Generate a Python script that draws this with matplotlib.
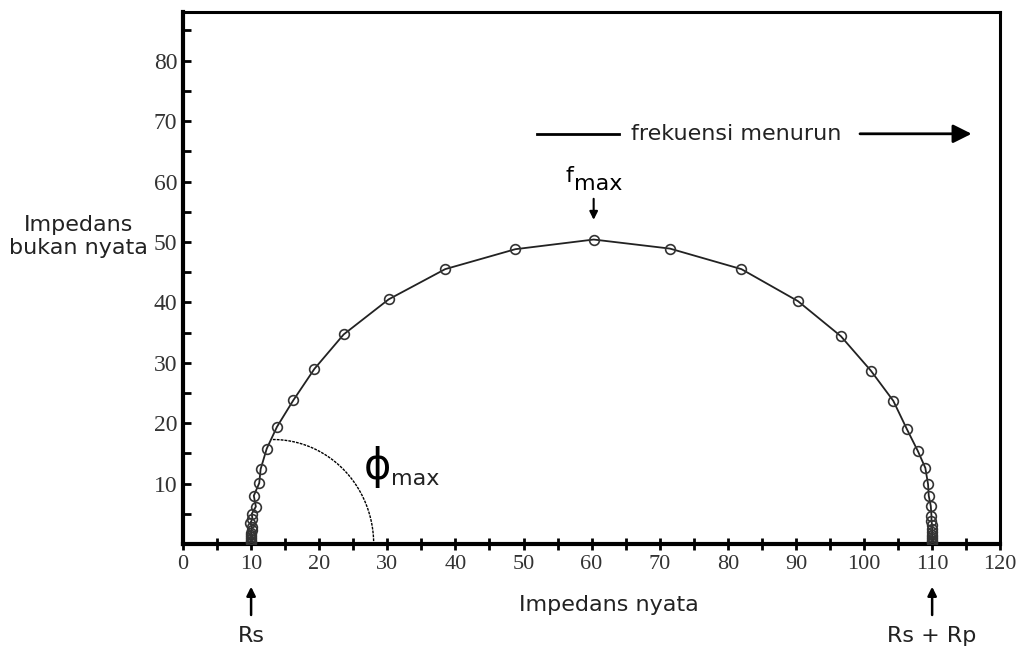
import matplotlib.pyplot as plt
import numpy as np

# Nyquist data (real, imaginary), high frequency at left -> low frequency at right
z_real = [10.0, 10.0, 10.0, 10.0, 10.0, 10.0, 10.0, 10.1, 10.1, 9.9, 10.2,
          10.1, 10.7, 10.4, 11.2, 11.4, 12.3, 13.8, 16.2, 19.3, 23.6, 30.2,
          38.5, 48.8, 60.3, 71.5, 82.0, 90.3, 96.6, 101.0, 104.3, 106.3,
          107.9, 109.0, 109.4, 109.5, 109.8, 109.9, 109.9, 110.0, 110.0,
          110.0, 110.0, 110.0, 110.0, 110.0, 110.0, 110.0]
z_imag = [0.1, 0.3, 0.5, 0.8, 1.1, 1.5, 1.9, 2.4, 2.9, 3.5, 4.2,
          5.0, 6.2, 8.0, 10.1, 12.4, 15.8, 19.4, 23.8, 29.0, 34.7, 40.5,
          45.5, 48.8, 50.4, 48.9, 45.5, 40.2, 34.4, 28.7, 23.7, 19.0,
          15.4, 12.6, 9.9, 8.0, 6.3, 4.7, 3.8, 3.1, 2.5, 2.0, 1.5, 1.1,
          0.8, 0.5, 0.3, 0.1]

rs = 10
rs_rp = 110
f_max_x = 60.3
x_major = list(range(0, 121, 10))
y_major = list(range(10, 81, 10))

plt.rcParams['font.family'] = 'DejaVu Sans'

fig = plt.figure(figsize=(10.28, 6.5), dpi=100)
ax = fig.add_axes([0.178, 0.163, 0.795, 0.818])

ax.plot(z_real, z_imag, '-', color='#222222', linewidth=1.3, zorder=2)
ax.plot(z_real, z_imag, 'o', markersize=7, markerfacecolor='none',
        markeredgecolor='#333333', markeredgewidth=1.2, zorder=3)

# busur sudut phi max
t = np.linspace(0, np.pi / 2, 60)
ax.plot(13.2 + 14.8 * np.sin(t), 17.3 * np.cos(t), color='black',
        linewidth=1.0, linestyle=(0, (2, 0.8)), zorder=2)
ax.text(28.5, 12.7, '\u03d5', fontsize=30, ha='center', va='center')
ax.text(30.6, 10.7, 'max', fontsize=16, ha='left', va='center', color='#222222')

# f max
ax.annotate('', xy=(f_max_x, 53.2), xytext=(f_max_x, 57.6),
            arrowprops=dict(arrowstyle='-|>', color='black', lw=1.5,
                            mutation_scale=12))
ax.text(f_max_x - 4.2, 59.3, 'f', fontsize=16, ha='left', va='bottom')
ax.text(f_max_x - 2.9, 58.0, 'max', fontsize=16, ha='left', va='bottom')

# frekuensi menurun
ax.plot([52.0, 64.0], [67.9, 67.9], color='black', linewidth=2)
ax.text(81.3, 67.9, 'frekuensi menurun', fontsize=16, ha='center', va='center',
        color='#222222')
ax.annotate('', xy=(116.2, 67.9), xytext=(99.0, 67.9),
            arrowprops=dict(arrowstyle='-|>', color='black', lw=2,
                            mutation_scale=28))

# Rs dan Rs + Rp
for xv, lab in [(rs, 'Rs'), (rs_rp, 'Rs + Rp')]:
    ax.annotate('', xy=(xv, -6.6), xytext=(xv, -12.2), annotation_clip=False,
                arrowprops=dict(arrowstyle='-|>', color='black', lw=1.8,
                                mutation_scale=13))
    ax.text(xv, -15.3, lab, fontsize=16, ha='center', va='center',
            color='#222222', clip_on=False)

ax.set_xlim(0, 120)
ax.set_ylim(0, 88)
ax.set_xticks(x_major)
ax.set_xticks(np.arange(5, 120, 10), minor=True)
ax.set_yticks(y_major)
ax.set_yticks(np.arange(5, 90, 10), minor=True)
ax.set_xticklabels([str(v) for v in x_major], fontfamily='Liberation Serif',
                   fontsize=16, color='#333333')
ax.set_yticklabels([str(v) for v in y_major], fontfamily='Liberation Serif',
                   fontsize=17, color='#333333')
ax.tick_params(axis='x', which='both', direction='inout', length=8,
               width=2, pad=4)
ax.tick_params(axis='y', which='both', direction='in', length=6,
               width=2, pad=4)

ax.text(62.6, -10.1, 'Impedans nyata', fontsize=16, ha='center', va='center',
        color='#222222', clip_on=False)
ax.text(-15.3, 50.9, 'Impedans\nbukan nyata', fontsize=16, ha='center',
        va='center', multialignment='center', color='#222222', clip_on=False,
        linespacing=1.15)

ax.spines['left'].set_linewidth(3)
ax.spines['bottom'].set_linewidth(3)
ax.spines['top'].set_linewidth(2.2)
ax.spines['right'].set_linewidth(2.2)

fig.savefig('out.png', dpi=100)
